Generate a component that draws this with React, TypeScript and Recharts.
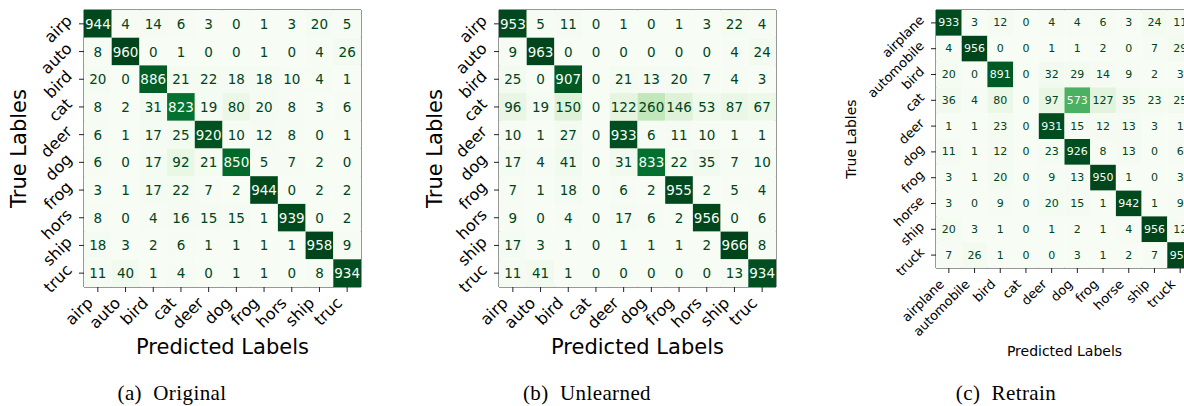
import { ScatterChart, Scatter, XAxis, YAxis, ReferenceArea, Label } from "recharts";

// class names, short form for the first two panels, full names for the retrain panel
const shortNames = ["airp", "auto", "bird", "cat", "deer", "dog", "frog", "hors", "ship", "truc"];
const fullNames = ["airplane", "automobile", "bird", "cat", "deer", "dog", "frog", "horse", "ship", "truck"];

const originalCm = [
  [944, 4, 14, 6, 3, 0, 1, 3, 20, 5],
  [8, 960, 0, 1, 0, 0, 1, 0, 4, 26],
  [20, 0, 886, 21, 22, 18, 18, 10, 4, 1],
  [8, 2, 31, 823, 19, 80, 20, 8, 3, 6],
  [6, 1, 17, 25, 920, 10, 12, 8, 0, 1],
  [6, 0, 17, 92, 21, 850, 5, 7, 2, 0],
  [3, 1, 17, 22, 7, 2, 944, 0, 2, 2],
  [8, 0, 4, 16, 15, 15, 1, 939, 0, 2],
  [18, 3, 2, 6, 1, 1, 1, 1, 958, 9],
  [11, 40, 1, 4, 0, 1, 1, 0, 8, 934],
];

const unlearnedCm = [
  [953, 5, 11, 0, 1, 0, 1, 3, 22, 4],
  [9, 963, 0, 0, 0, 0, 0, 0, 4, 24],
  [25, 0, 907, 0, 21, 13, 20, 7, 4, 3],
  [96, 19, 150, 0, 122, 260, 146, 53, 87, 67],
  [10, 1, 27, 0, 933, 6, 11, 10, 1, 1],
  [17, 4, 41, 0, 31, 833, 22, 35, 7, 10],
  [7, 1, 18, 0, 6, 2, 955, 2, 5, 4],
  [9, 0, 4, 0, 17, 6, 2, 956, 0, 6],
  [17, 3, 1, 0, 1, 1, 1, 2, 966, 8],
  [11, 41, 1, 0, 0, 0, 0, 0, 13, 934],
];

const retrainCm = [
  [933, 3, 12, 0, 4, 4, 6, 3, 24, 11],
  [4, 956, 0, 0, 1, 1, 2, 0, 7, 29],
  [20, 0, 891, 0, 32, 29, 14, 9, 2, 3],
  [36, 4, 80, 0, 97, 573, 127, 35, 23, 25],
  [1, 1, 23, 0, 931, 15, 12, 13, 3, 1],
  [11, 1, 12, 0, 23, 926, 8, 13, 0, 6],
  [3, 1, 20, 0, 9, 13, 950, 1, 0, 3],
  [3, 0, 9, 0, 20, 15, 1, 942, 1, 9],
  [20, 3, 1, 0, 1, 2, 1, 4, 956, 12],
  [7, 26, 1, 0, 0, 3, 1, 2, 7, 953],
];

const classTicks = [0, 1, 2, 3, 4, 5, 6, 7, 8, 9];

// matplotlib "Greens"
const GREENS = ["#f7fcf5", "#e5f5e0", "#c7e9c0", "#a1d99b", "#74c476", "#41ab5d", "#238b45", "#006d2c", "#00441b"];
const DARK = "#00441b";
const LIGHT = "#f7fcf5";
const FONT = "'DejaVu Sans', sans-serif";

function hexRgb(h: string) {
  const n = parseInt(h.slice(1), 16);
  return [(n >> 16) & 255, (n >> 8) & 255, n & 255];
}

function greens(t: number) {
  const s = Math.max(0, Math.min(1, t)) * (GREENS.length - 1);
  const i = Math.min(Math.floor(s), GREENS.length - 2);
  const f = s - i;
  const a = hexRgb(GREENS[i]);
  const b = hexRgb(GREENS[i + 1]);
  const c = a.map((v, k) => Math.round(v + (b[k] - v) * f));
  return `rgb(${c[0]},${c[1]},${c[2]})`;
}

type PanelProps = {
  matrix: number[][];
  labels: string[];
  left: number;
  yAxisWidth: number;
  plotW: number;
  plotH: number;
  tickFont: number;
  cellFont: number;
  titleFont: number;
  yTitleOffset: number;
  xTitleOffset: number;
};

const CHART_W = 380;
const CHART_H = 370;
const TOP = 10;

function Panel(p: PanelProps) {
  const cw = p.plotW / 10;
  const ch = p.plotH / 10;
  const flat = p.matrix.flat();
  const vmax = Math.max(...flat);
  const vmin = Math.min(...flat);
  const thresh = (vmax + vmin) / 2;

  const cells = p.matrix.flatMap((row, r) => row.map((v, c) => ({ x: c, y: r, v })));

  const cellShape = (props: any) => {
    const { cx, cy, payload } = props;
    const v = payload.v as number;
    return (
      <g>
        <rect x={cx - cw / 2} y={cy - ch / 2} width={cw} height={ch} fill={greens((v - vmin) / (vmax - vmin))} />
        <text
          x={cx}
          y={cy}
          textAnchor="middle"
          dominantBaseline="central"
          fontSize={p.cellFont}
          fontFamily={FONT}
          fill={v >= thresh ? LIGHT : DARK}
        >
          {v}
        </text>
      </g>
    );
  };

  // rotated tick labels, anchored at the end of the text like rotation=45, ha="right"
  const xTick = (props: any) => {
    const ax = props.x - 4;
    const ay = props.y + 10;
    return (
      <text x={ax} y={ay} transform={`rotate(-45, ${ax}, ${ay})`} textAnchor="end" fontSize={p.tickFont} fontFamily={FONT} fill="#000">
        {p.labels[props.payload.value]}
      </text>
    );
  };

  const yTick = (props: any) => {
    const ax = props.x - 4;
    const ay = props.y - 2;
    return (
      <text x={ax} y={ay} transform={`rotate(-45, ${ax}, ${ay})`} textAnchor="end" fontSize={p.tickFont} fontFamily={FONT} fill="#000">
        {p.labels[props.payload.value]}
      </text>
    );
  };

  return (
    <div style={{ position: "absolute", left: p.left, top: 0 }}>
      <ScatterChart
        width={CHART_W}
        height={CHART_H}
        margin={{ top: TOP, right: CHART_W - p.yAxisWidth - p.plotW, bottom: 0, left: 0 }}
      >
        <XAxis
          type="number"
          dataKey="x"
          domain={[-0.5, 9.5]}
          ticks={classTicks}
          interval={0}
          height={CHART_H - TOP - p.plotH}
          axisLine={false}
          tickLine={{ stroke: "#222" }}
          tickSize={5}
          tickMargin={2}
          tick={xTick}
        >
          <Label
            value="Predicted Labels"
            position="insideBottom"
            offset={p.xTitleOffset}
            style={{ fontSize: p.titleFont, fontFamily: FONT, fill: "#000" }}
          />
        </XAxis>
        <YAxis
          type="number"
          dataKey="y"
          domain={[-0.5, 9.5]}
          reversed
          ticks={classTicks}
          interval={0}
          width={p.yAxisWidth}
          axisLine={false}
          tickLine={{ stroke: "#222" }}
          tickSize={5}
          tickMargin={2}
          tick={yTick}
        >
          <Label
            value="True Lables"
            angle={-90}
            position="insideLeft"
            offset={p.yTitleOffset}
            style={{ textAnchor: "middle", fontSize: p.titleFont, fontFamily: FONT, fill: "#000" }}
          />
        </YAxis>
        <Scatter data={cells} shape={cellShape} isAnimationActive={false} />
        <ReferenceArea x1={-0.5} x2={9.5} y1={-0.5} y2={9.5} fill="none" stroke="#333" strokeWidth={1} ifOverflow="visible" />
      </ScatterChart>
    </div>
  );
}

const captionStyle = (center: number): React.CSSProperties => ({
  position: "absolute",
  left: center - 110,
  width: 220,
  top: 382,
  textAlign: "center",
  fontFamily: "'Liberation Serif', serif",
  fontSize: 21,
  letterSpacing: 0.4,
  lineHeight: "22px",
  whiteSpace: "pre",
  color: "#000",
});

export default function App() {
  return (
    <div style={{ position: "absolute", left: 0, top: 0, width: 1184, height: 406, overflow: "hidden", background: "#fff" }}>
      <Panel matrix={originalCm} labels={shortNames} left={0} yAxisWidth={84} plotW={277} plotH={277}
        tickFont={16} cellFont={13.5} titleFont={21} yTitleOffset={19} xTitleOffset={16} />
      <Panel matrix={unlearnedCm} labels={shortNames} left={410} yAxisWidth={89} plotW={277} plotH={277}
        tickFont={16} cellFont={13.5} titleFont={21} yTitleOffset={25} xTitleOffset={16} />
      <Panel matrix={retrainCm} labels={fullNames} left={820} yAxisWidth={116} plotW={257} plotH={258}
        tickFont={13} cellFont={11} titleFont={14} yTitleOffset={31} xTitleOffset={14} />
      <div style={captionStyle(172)}>{"(a)  Original"}</div>
      <div style={captionStyle(587)}>{"(b)  Unlearned"}</div>
      <div style={captionStyle(1006)}>{"(c)  Retrain"}</div>
    </div>
  );
}
